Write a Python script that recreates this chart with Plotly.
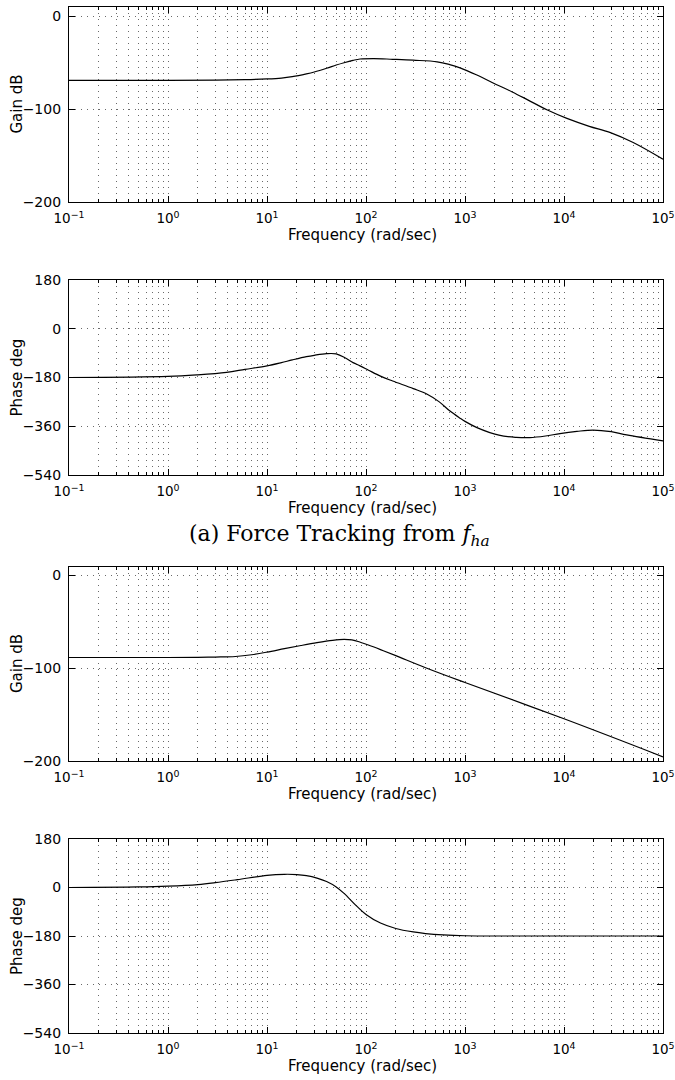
import plotly.graph_objects as go

# ---------------- data ----------------
freq_gain1 = [0.1, 1, 3, 6, 10, 14, 18, 25, 30, 40, 50, 60, 74, 87, 120, 186, 300, 523,
              700, 890, 1300, 1900, 3000, 4300, 6800, 10700, 18000, 29000, 50000, 100000]
gain1_db = [-69, -69, -68.8, -68.3, -67.5, -66.5, -65, -62, -60, -56, -52.5, -50, -47.5,
            -46, -45.5, -46.3, -47.3, -49, -52, -55.5, -63, -71.6, -81.5, -90, -101,
            -110, -118.5, -125, -136, -154]

freq_phase1 = [0.1, 1, 2, 3.9, 6, 10, 14, 18, 25, 30, 40, 50, 62, 74, 87, 105, 140, 186,
               300, 415, 550, 700, 890, 1000, 1320, 2200, 3300, 4500, 6500, 9100,
               13500, 19700, 30000, 43000, 100000]
phase1_deg = [-180, -176, -170, -161, -150, -137, -125, -115, -103, -98, -92, -93, -108,
              -125, -137, -152, -175, -193, -221, -242, -270, -303, -330, -342, -365,
              -393, -401, -402, -396, -387, -379, -374, -380, -392, -414]

freq_gain2 = [0.1, 1, 2, 3, 4.8, 7, 10, 15, 22, 32, 46, 60, 72, 85, 104, 140, 200,
              400, 1000, 10000, 100000]
gain2_db = [-88.5, -88.5, -88.3, -88, -87.4, -85.5, -82.7, -79, -75.6, -72.5, -70,
            -69, -69.6, -71.5, -74.8, -80, -86.5, -99.5, -115.5, -154.5, -195.5]

freq_phase2 = [0.1, 0.5, 1, 2, 3, 5, 10, 15, 20, 25, 32, 40, 50, 60, 80, 100, 140, 200,
               300, 400, 600, 1000, 10000, 100000]
phase2_deg = [0, 2, 5, 11, 18, 29, 45, 49, 48, 44, 35, 22, 2, -22, -68, -100, -132,
              -152, -165, -171, -176, -179, -180, -180]

x_tickvals = [0.1, 1, 10, 100, 1000, 10000, 100000]
x_ticktext = ["10<sup>−1</sup>", "10<sup>0</sup>", "10<sup>1</sup>", "10<sup>2</sup>",
              "10<sup>3</sup>", "10<sup>4</sup>", "10<sup>5</sup>"]
gain_ticks = [0, -100, -200]
phase_ticks = [180, 0, -180, -360, -540]

caption = "(a) Force Tracking from <i>f</i><sub><i>ha</i></sub>"
gain_title = "Gain dB"
phase_title = "Phase deg"
freq_title = "Frequency (rad/sec)"

# ---------------- layout geometry ----------------
W, H = 675, 1080
x0, x1 = 69, 663
panels = [  # (top px, bottom px, freq, values, yrange, yticks, ytitle)
    (7, 202, freq_gain1, gain1_db, [-200, 10], gain_ticks, gain_title),
    (280, 475, freq_phase1, phase1_deg, [-540, 180], phase_ticks, phase_title),
    (567, 761, freq_gain2, gain2_db, [-200, 9], gain_ticks, gain_title),
    (839, 1033, freq_phase2, phase2_deg, [-540, 180], phase_ticks, phase_title),
]

minor_vals = [m * 10 ** k for k in range(-1, 5) for m in range(2, 10)]

fig = go.Figure()
FONT = "DejaVu Sans, Arial, sans-serif"
grid_color = "#6a6a6a"
DASH = "1px,5px"
annotations = []

for i, (top, bot, fx, fy, yr, yt, ytitle) in enumerate(panels):
    n = i + 1
    xa = "x" if n == 1 else f"x{n}"
    ya = "y" if n == 1 else f"y{n}"
    fig.add_trace(go.Scatter(x=fx, y=fy, mode="lines", xaxis=xa, yaxis=ya,
                             line=dict(color="black", width=1.2, shape="spline", smoothing=1.0),
                             showlegend=False, hoverinfo="skip"))
    dom_y = [1 - bot / H, 1 - top / H]
    xkey = "xaxis" if n == 1 else f"xaxis{n}"
    ykey = "yaxis" if n == 1 else f"yaxis{n}"
    fig.layout[xkey] = dict(
        type="log", range=[-1, 5], domain=[x0 / W, x1 / W], anchor=ya,
        tickmode="array", tickvals=x_tickvals, ticktext=x_ticktext,
        ticks="inside", ticklen=6, tickcolor="black", tickwidth=1,
        showline=True, linecolor="black", linewidth=1.2, mirror="allticks",
        showgrid=True, gridcolor=grid_color, gridwidth=1, griddash=DASH,
        minor=dict(tickmode="array", tickvals=minor_vals, ticks="inside", ticklen=3,
                   tickcolor="black", showgrid=True, gridcolor=grid_color,
                   gridwidth=1, griddash=DASH),
        tickfont=dict(family=FONT, size=13.5, color="black"),
        ticklabelstandoff=4, ticklabeloverflow="allow",
        zeroline=False, fixedrange=True, automargin=False,
    )
    fig.layout[ykey] = dict(
        range=yr, domain=dom_y, anchor=xa,
        tickmode="array", tickvals=yt,
        ticks="inside", ticklen=6, tickcolor="black", tickwidth=1,
        showline=True, linecolor="black", linewidth=1.2, mirror="allticks",
        showgrid=True, gridcolor=grid_color, gridwidth=1, griddash=DASH,
        tickfont=dict(family=FONT, size=14, color="black"),
        ticklabelstandoff=4, ticklabeloverflow="allow",
        zeroline=False, fixedrange=True, automargin=False,
    )
    # y title
    annotations.append(dict(text=ytitle, xref="paper", yref="paper",
                            x=17 / W, y=1 - ((top + bot) / 2) / H, showarrow=False,
                            textangle=-90, xanchor="center", yanchor="middle",
                            font=dict(family=FONT, size=15, color="black")))
    # x title
    annotations.append(dict(text=freq_title, xref="paper", yref="paper",
                            x=362 / W, y=1 - (bot + 33) / H, showarrow=False,
                            xanchor="center", yanchor="middle",
                            font=dict(family=FONT, size=15, color="black")))

annotations.append(dict(text=caption, xref="paper", yref="paper",
                        x=340 / W, y=1 - 536 / H, showarrow=False,
                        xanchor="center", yanchor="middle",
                        font=dict(family="DejaVu Serif, Liberation Serif, serif", size=22, color="black")))

fig.update_layout(width=W, height=H, margin=dict(l=0, r=0, t=0, b=0),
                  paper_bgcolor="white", plot_bgcolor="white",
                  annotations=annotations, showlegend=False)

fig.write_html("out.html")
